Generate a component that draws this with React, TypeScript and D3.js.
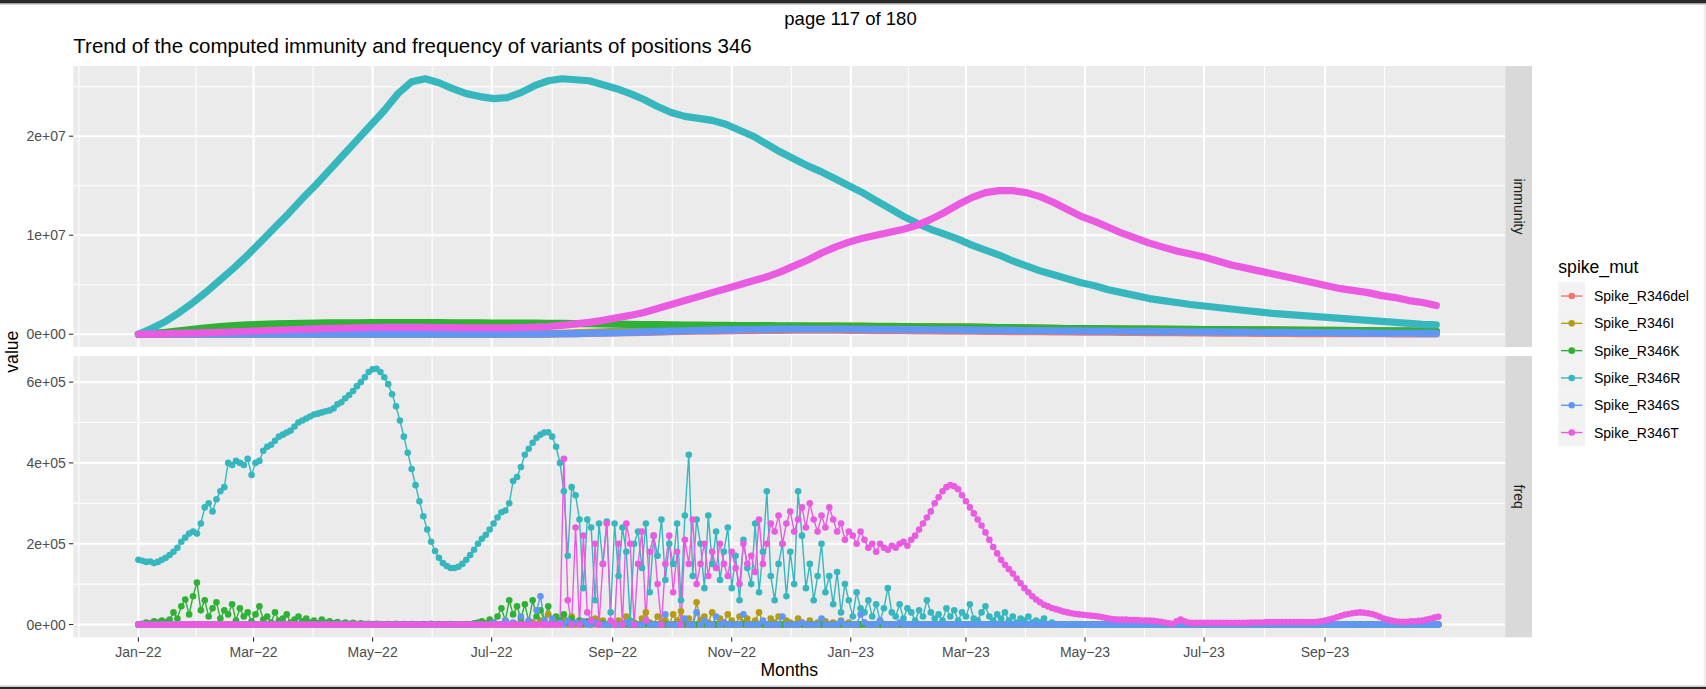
import React from "react";
import * as d3 from "d3";

// ---------------- data ----------------
const seriesNames = ["Spike_R346del", "Spike_R346I", "Spike_R346K", "Spike_R346R", "Spike_R346S", "Spike_R346T"];
const seriesColors = ["#F0766C", "#B39C12", "#2FB136", "#36B7BE", "#6196F5", "#EA5BE2"];
const facetLabels = ["immunity", "freq"];

const xTickLabels = ["Jan-22", "Mar-22", "May-22", "Jul-22", "Sep-22", "Nov-22", "Jan-23", "Mar-23", "May-23", "Jul-23", "Sep-23"];
const immTicks = [0, 1e7, 2e7];
const immTickLabels = ["0e+00", "1e+07", "2e+07"];
const immMinor = [5e6, 1.5e7, 2.5e7];
const freqTicks = [0, 2e5, 4e5, 6e5];
const freqTickLabels = ["0e+00", "2e+05", "4e+05", "6e+05"];
const freqMinor = [1e5, 3e5, 5e5];

// immunity: weekly readings (millions), day 0 = 2022-01-01
const IMM_STEP = 7;
const immDel = [
  0,0,0,0,0,0,0,0,0,0, 0,0,0,0,0,0,0,0,0,0,
  0,0,0,0,0,0,0,0,0.01,0.01,
  0.02,0.04,0.06,0.08,0.1,0.13,0.16,0.19,0.22,0.25,
  0.28,0.3,0.32,0.34,0.36,0.37,0.38,0.39,0.4,0.4,
  0.4,0.4,0.39,0.38,0.37,0.36,0.35,0.34,0.33,0.32,
  0.31,0.3,0.29,0.28,0.27,0.26,0.25,0.24,0.23,0.22,
  0.21,0.2,0.19,0.18,0.17,0.16,0.15,0.14,0.13,0.12,
  0.11,0.1,0.09,0.08,0.08,0.07,0.07,0.06,0.06,0.05,
  0.05,0.05,0.04,0.04,0.04,0.03,
];
const immI = [
  0,0,0,0,0,0,0,0,0,0, 0,0,0,0,0,0,0,0,0,0,
  0,0,0,0,0.01,0.01,0.02,0.02,0.03,0.05,
  0.07,0.1,0.14,0.18,0.23,0.28,0.33,0.38,0.43,0.48,
  0.53,0.58,0.62,0.66,0.7,0.73,0.76,0.78,0.8,0.81,
  0.82,0.82,0.82,0.81,0.8,0.79,0.78,0.77,0.76,0.75,
  0.74,0.72,0.7,0.68,0.66,0.64,0.62,0.6,0.58,0.56,
  0.55,0.54,0.53,0.52,0.51,0.5,0.49,0.48,0.47,0.46,
  0.45,0.44,0.43,0.42,0.41,0.4,0.39,0.38,0.37,0.36,
  0.35,0.34,0.33,0.32,0.31,0.3,
];
const immK = [
  0,0.1,0.2,0.35,0.5,0.65,0.78,0.88,0.95,1.0,
  1.05,1.08,1.1,1.12,1.14,1.15,1.16,1.17,1.18,1.18,
  1.18,1.18,1.17,1.16,1.15,1.14,1.13,1.12,1.12,1.12,
  1.11,1.1,1.08,1.06,1.04,1.02,1.0,0.98,0.96,0.94,
  0.92,0.91,0.9,0.89,0.88,0.87,0.86,0.85,0.84,0.83,
  0.82,0.81,0.8,0.79,0.78,0.77,0.76,0.75,0.74,0.73,
  0.72,0.71,0.7,0.68,0.66,0.64,0.62,0.6,0.58,0.57,
  0.56,0.55,0.54,0.53,0.52,0.51,0.5,0.49,0.48,0.47,
  0.46,0.45,0.44,0.43,0.42,0.41,0.4,0.39,0.38,0.37,
  0.36,0.35,0.34,0.33,0.32,0.31,
];
const immR = [
  0,0.6,1.3,2.2,3.2,4.3,5.5,6.7,8.0,9.4,
  10.8,12.2,13.7,15.1,16.6,18.1,19.6,21.1,22.6,24.3,
  25.5,25.8,25.4,24.8,24.3,24.0,23.8,23.9,24.4,25.1,
  25.6,25.8,25.7,25.6,25.2,24.8,24.3,23.7,23.0,22.4,
  22.0,21.8,21.6,21.2,20.6,20.0,19.2,18.4,17.7,17.0,
  16.4,15.7,15.0,14.3,13.5,12.7,11.9,11.2,10.6,10.1,
  9.6,9.0,8.5,8.0,7.4,6.9,6.4,6.0,5.6,5.2,
  4.9,4.5,4.2,3.9,3.6,3.4,3.2,3.0,2.85,2.7,
  2.55,2.4,2.25,2.1,2.0,1.9,1.8,1.7,1.6,1.5,
  1.4,1.3,1.2,1.1,1.0,0.95,
];
const immS = [
  0,0,0,0,0,0,0,0,0,0, 0,0,0,0,0,0,0,0,0,0,
  0,0,0,0,0,0,0,0,0.01,0.02,
  0.03,0.05,0.07,0.1,0.13,0.16,0.2,0.24,0.28,0.32,
  0.35,0.38,0.41,0.44,0.46,0.48,0.5,0.51,0.52,0.52,
  0.52,0.52,0.51,0.5,0.49,0.48,0.47,0.46,0.45,0.44,
  0.43,0.42,0.41,0.4,0.38,0.37,0.36,0.35,0.34,0.33,
  0.32,0.31,0.3,0.29,0.28,0.27,0.26,0.25,0.24,0.23,
  0.22,0.21,0.2,0.19,0.18,0.17,0.16,0.15,0.14,0.13,
  0.12,0.11,0.1,0.1,0.09,0.08,
];
const immT = [
  0,0.02,0.05,0.08,0.12,0.16,0.2,0.25,0.3,0.35,
  0.4,0.45,0.5,0.55,0.6,0.62,0.65,0.68,0.7,0.7,
  0.7,0.7,0.68,0.66,0.65,0.64,0.64,0.65,0.68,0.72,
  0.78,0.9,1.05,1.2,1.4,1.65,1.9,2.2,2.6,3.0,
  3.4,3.8,4.2,4.6,5.0,5.4,5.8,6.3,6.9,7.5,
  8.2,8.8,9.3,9.7,10.0,10.3,10.6,11.0,11.6,12.3,
  13.1,13.8,14.3,14.5,14.5,14.3,13.9,13.3,12.6,11.9,
  11.4,10.8,10.2,9.7,9.2,8.8,8.4,8.1,7.8,7.4,
  7.0,6.7,6.4,6.1,5.8,5.5,5.2,4.9,4.6,4.4,
  4.2,3.9,3.7,3.4,3.2,2.9,
];

// freq: readings every 2 days (thousands); each list starts at its start day, 0 elsewhere
const FREQ_STEP = 2;
const FREQ_END = 666;
const freqDelStart = 0;
const freqDel: number[] = [];
const freqIStart = 200;
const freqI = [
  0,5,0,10,0,25,0,5,0,15, 0,20,0,10,0,5,0,15,0,10,
  0,5,0,10,0,20,0,5,0,15, 30,5,0,20,5,10,0,25,10,33,
  5,15,0,55,10,20,5,30,0,15, 5,25,10,0,20,5,15,0,10,30,
  5,0,15,5,20,0,10,5,0,15, 5,0,10,0,5,0,8,0,5,0,
  10,0,5,0,0,0,5,0,0,0,
];
const freqKStart = 0;
const freqK = [
  0,2,5,3,8,5,10,6,12,30, 15,45,62,25,70,104,35,60,20,40,
  55,15,35,25,50,10,40,20,30,8, 25,45,12,20,5,30,10,15,25,5,
  12,20,8,15,5,10,3,12,5,8, 3,6,2,5,2,4,1,3,1,2,
  1,2,1,0,1,0,2,0,1,0, 1,0,0,1,0,2,0,1,0,0,
  1,0,0,0,1,0,3,5,8,3, 12,5,20,40,10,60,25,45,15,50,
  8,60,20,35,10,45,5,20,10,25, 5,15,3,10,2,8,2,5,0,3,
];
const freqRStart = 0;
const freqR = [
  160,158,155,156,152,155,160,165,172,180,190,205,215,225,230,225,
  250,290,300,280,310,330,340,400,395,405,400,395,410,370,
  400,405,430,440,445,455,465,470,475,480,490,500,505,510,515,
  520,522,525,528,530,535,545,550,560,568,578,590,600,612,625,
  632,633,625,612,595,570,540,505,465,425,385,345,305,268,235,205,
  182,165,152,145,140,140,143,150,160,172,185,200,212,222,235,
  250,265,278,282,300,355,365,390,420,435,450,462,470,475,476,
  465,440,400,330,170,340,320,260,90,260,240,60,250,150,255,30,
  250,120,240,180,10,200,230,140,250,80,220,170,260,110,200,
  150,250,60,270,420,120,260,200,90,270,150,230,110,180,240,
  90,170,60,210,140,100,250,80,180,330,120,60,150,200,70,
  180,100,330,220,90,150,60,120,200,80,120,50,130,30,100,60,
  20,80,40,30,60,20,50,10,40,90,30,20,50,15,40,
  30,10,35,20,60,30,15,25,10,40,20,35,10,30,
  20,50,15,10,30,45,20,10,25,15,30,10,20,5,15,10,20,5,10,5,15,0,5,0,
];
const freqSStart = 180;
const freqS = [
  0,5,0,0,10,0,5,0,20,0, 10,0,35,70,10,0,15,0,5,0,
  10,0,5,0,8,0,0,5,0,0, 0,0,0,0,0,5,0,0,0,0,
  10,0,0,0,0,25,0,0,0,0, 15,0,0,30,0,10,0,0,20,0,
  5,0,0,0,0,25,0,0,0,0, 10,0,0,0,0,20,0,0,0,0,
  5,0,0,0,0,15,0,0,0,0, 8,0,0,0,0,25,5,0,0,0,
  10,0,0,0,0,5,0,0,0,0,
];
const freqTStart = 216;
const freqT = [
  0,410,60,0,240,0,220,30,10,200, 0,150,250,10,0,200,0,250,200,0,
  150,230,10,180,220,100,0,150,220,80, 180,0,210,150,260,100,150,200,120,180,
  140,200,150,120,180,140,100,200,150,170, 130,260,150,200,250,230,270,200,250,280,
  230,260,290,240,300,260,230,270,240,290, 260,230,250,210,230,220,200,230,210,190,
  200,180,200,190,185,195,190,200,205,195, 210,220,235,250,265,280,300,315,330,340,
  345,342,335,320,305,290,275,260,245,228, 210,192,176,160,148,137,126,114,102,90,
  80,70,62,55,49,45,41,38,35,32, 30,28,26,25,24,23,22,21,20,18,
  16,14,13,12,12,12,11,11,11,10, 10,10,9,8,7,5,3,2,8,12,
  8,5,4,4,4,4,4,4,4,4, 4,4,4,4,4,4,4,5,5,5,
  5,6,6,6,6,6,6,6,6,6, 6,6,6,6,7,8,10,12,15,18,
  21,24,26,28,29,30,29,28,26,23, 19,15,12,10,8,7,7,7,8,8,
  9,10,12,14,17,19,
];

// ---------------- layout ----------------
const W = 1706;
const H = 689;
const PANEL_L = 73.3;
const PANEL_R = 1505.3;
const STRIP_W = 26.7;
const TOP_Y0 = 66;
const TOP_Y1 = 347;
const BOT_Y0 = 356;
const BOT_Y1 = 637.3;
const FONT = "'Liberation Sans', Arial, Helvetica, sans-serif";

const BASE = Date.UTC(2022, 0, 1);
const DAY_MS = 864e5;
const toDate = (d: number) => new Date(BASE + d * DAY_MS);

type Pt = { date: Date; value: number };

function immSeries(vals: number[]): Pt[] {
  return vals.map((v, i) => ({ date: toDate(i * IMM_STEP), value: v * 1e6 }));
}
function freqSeries(vals: number[], start: number): Pt[] {
  const pts: Pt[] = [];
  for (let d = 0; d <= FREQ_END; d += FREQ_STEP) {
    const i = (d - start) / FREQ_STEP;
    const v = i >= 0 && i < vals.length ? vals[i] : 0;
    pts.push({ date: toDate(d), value: v * 1000 });
  }
  return pts;
}

const immData = [immDel, immI, immK, immR, immS, immT].map(immSeries);
const freqData = [
  freqSeries(freqDel, freqDelStart),
  freqSeries(freqI, freqIStart),
  freqSeries(freqK, freqKStart),
  freqSeries(freqR, freqRStart),
  freqSeries(freqS, freqSStart),
  freqSeries(freqT, freqTStart),
];

const minDate = toDate(0);
const maxDate = toDate(667);
const span = maxDate.getTime() - minDate.getTime();
const x = d3
  .scaleUtc()
  .domain([new Date(minDate.getTime() - 0.05 * span), new Date(maxDate.getTime() + 0.05 * span)])
  .range([PANEL_L, PANEL_R]);

const immMax = d3.max(immData.flat(), (d) => d.value) as number;
const freqMax = d3.max(freqData.flat(), (d) => d.value) as number;
const yImm = d3.scaleLinear().domain([-0.05 * immMax, 1.05 * immMax]).range([TOP_Y1, TOP_Y0]);
const yFreq = d3.scaleLinear().domain([-0.05 * freqMax, 1.05 * freqMax]).range([BOT_Y1, BOT_Y0]);

const majorDates = d3.utcMonth.every(2)!.range(new Date(Date.UTC(2022, 0, 1)), new Date(Date.UTC(2023, 9, 1)));
const extended = [new Date(Date.UTC(2021, 10, 1)), ...majorDates, new Date(Date.UTC(2023, 10, 1))];
const minorDates: Date[] = [];
for (let i = 0; i < extended.length - 1; i++) {
  minorDates.push(new Date((extended[i].getTime() + extended[i + 1].getTime()) / 2));
}
const fmtLabel = (s: string) => s.replace("-", "\u2212");

function Panel({ y0, y1, yScale, ticks, minor }: { y0: number; y1: number; yScale: any; ticks: number[]; minor: number[] }) {
  return (
    <g>
      <rect x={PANEL_L} y={y0} width={PANEL_R - PANEL_L} height={y1 - y0} fill="#EBEBEB" />
      {minor.map((v, i) => (
        <line key={"ym" + i} x1={PANEL_L} x2={PANEL_R} y1={yScale(v)} y2={yScale(v)} stroke="#fff" strokeWidth={1.05} />
      ))}
      {minorDates.map((d, i) => (
        <line key={"xm" + i} x1={x(d)} x2={x(d)} y1={y0} y2={y1} stroke="#fff" strokeWidth={1.05} />
      ))}
      {ticks.map((v, i) => (
        <line key={"yM" + i} x1={PANEL_L} x2={PANEL_R} y1={yScale(v)} y2={yScale(v)} stroke="#fff" strokeWidth={2.1} />
      ))}
      {majorDates.map((d, i) => (
        <line key={"xM" + i} x1={x(d)} x2={x(d)} y1={y0} y2={y1} stroke="#fff" strokeWidth={2.1} />
      ))}
    </g>
  );
}

function YAxis({ yScale, ticks, labels }: { yScale: any; ticks: number[]; labels: string[] }) {
  return (
    <g>
      {ticks.map((v, i) => (
        <g key={i}>
          <line x1={PANEL_L - 4.4} x2={PANEL_L} y1={yScale(v)} y2={yScale(v)} stroke="#333" strokeWidth={1.07} />
          <text x={PANEL_L - 7.5} y={yScale(v)} dy="0.36em" textAnchor="end" fontSize={14} fill="#4D4D4D" fontFamily={FONT}>
            {labels[i]}
          </text>
        </g>
      ))}
    </g>
  );
}

function Strip({ y0, y1, label }: { y0: number; y1: number; label: string }) {
  const cx = PANEL_R + STRIP_W / 2;
  const cy = (y0 + y1) / 2;
  return (
    <g>
      <rect x={PANEL_R} y={y0} width={STRIP_W} height={y1 - y0} fill="#D9D9D9" />
      <text transform={`translate(${cx},${cy}) rotate(90)`} textAnchor="middle" dy="0.35em" fontSize={14} fill="#1A1A1A" fontFamily={FONT}>
        {label}
      </text>
    </g>
  );
}

export default function App() {
  const lineImm = d3
    .line<Pt>()
    .x((d) => x(d.date))
    .y((d) => yImm(d.value));
  const lineFreq = d3
    .line<Pt>()
    .x((d) => x(d.date))
    .y((d) => yFreq(d.value));

  const legendY0 = 282.4;
  const keyH = 27.3;

  return (
    <svg width={W} height={H} style={{ position: "absolute", left: 0, top: 0, background: "#fff" }}>
      <rect x={0} y={0} width={W} height={H} fill="#fff" />
      {/* viewer chrome */}
      <rect x={0} y={0} width={W} height={3.6} fill="#2A2A2A" />
      <rect x={0} y={3.6} width={W} height={1.4} fill="#D6D6D6" />
      <rect x={0} y={686.6} width={W} height={2.4} fill="#2A2A2A" />
      <rect x={0} y={685} width={W} height={1.6} fill="#E2E2E2" />
      <rect x={1703.6} y={5} width={2.4} height={680} fill="#EFEFEF" />

      <text x={850.5} y={25} textAnchor="middle" fontSize={18.5} fill="#000" fontFamily={FONT}>
        page 117 of 180
      </text>
      <text x={PANEL_L} y={53} fontSize={20.5} fill="#000" fontFamily={FONT}>
        Trend of the computed immunity and frequency of variants of positions 346
      </text>

      <Panel y0={TOP_Y0} y1={TOP_Y1} yScale={yImm} ticks={immTicks} minor={immMinor} />
      <Panel y0={BOT_Y0} y1={BOT_Y1} yScale={yFreq} ticks={freqTicks} minor={freqMinor} />

      {/* immunity: dense daily points rendered as a thick band */}
      <g>
        {immData.map((s, i) => (
          <path key={i} d={lineImm(s) || ""} fill="none" stroke={seriesColors[i]} strokeWidth={7.2} strokeLinecap="round" strokeLinejoin="round" />
        ))}
      </g>

      {/* freq: lines then points */}
      <g>
        {freqData.map((s, i) => (
          <path key={i} d={lineFreq(s) || ""} fill="none" stroke={seriesColors[i]} strokeWidth={1.4} />
        ))}
        {freqData.map((s, i) => (
          <g key={"p" + i} fill={seriesColors[i]}>
            {s.map((d, j) => (
              <circle key={j} cx={x(d.date)} cy={yFreq(d.value)} r={3.3} />
            ))}
          </g>
        ))}
      </g>

      <Strip y0={TOP_Y0} y1={TOP_Y1} label={facetLabels[0]} />
      <Strip y0={BOT_Y0} y1={BOT_Y1} label={facetLabels[1]} />

      <YAxis yScale={yImm} ticks={immTicks} labels={immTickLabels} />
      <YAxis yScale={yFreq} ticks={freqTicks} labels={freqTickLabels} />

      {/* x axis */}
      {majorDates.map((d, i) => (
        <g key={i}>
          <line x1={x(d)} x2={x(d)} y1={BOT_Y1} y2={BOT_Y1 + 4.4} stroke="#333" strokeWidth={1.07} />
          <text x={x(d)} y={656.7} textAnchor="middle" fontSize={14} fill="#4D4D4D" fontFamily={FONT}>
            {fmtLabel(xTickLabels[i])}
          </text>
        </g>
      ))}
      <text x={(PANEL_L + PANEL_R) / 2} y={676} textAnchor="middle" fontSize={17.6} fill="#000" fontFamily={FONT}>
        Months
      </text>
      <text transform={`translate(17.5,${(TOP_Y0 + BOT_Y1) / 2}) rotate(-90)`} textAnchor="middle" fontSize={17.6} fill="#000" fontFamily={FONT}>
        value
      </text>

      {/* legend */}
      <text x={1558.3} y={273} fontSize={17.6} fill="#000" fontFamily={FONT}>
        spike_mut
      </text>
      {seriesNames.map((n, i) => {
        const cy = legendY0 + keyH * i + keyH / 2;
        return (
          <g key={n}>
            <rect x={1558.3} y={legendY0 + keyH * i} width={26.8} height={keyH} fill="#F2F2F2" />
            <line x1={1561} x2={1582.4} y1={cy} y2={cy} stroke={seriesColors[i]} strokeWidth={1.4} />
            <circle cx={1571.7} cy={cy} r={3.3} fill={seriesColors[i]} />
            <text x={1594} y={cy} dy="0.36em" fontSize={14} fill="#000" fontFamily={FONT}>
              {n}
            </text>
          </g>
        );
      })}
    </svg>
  );
}
